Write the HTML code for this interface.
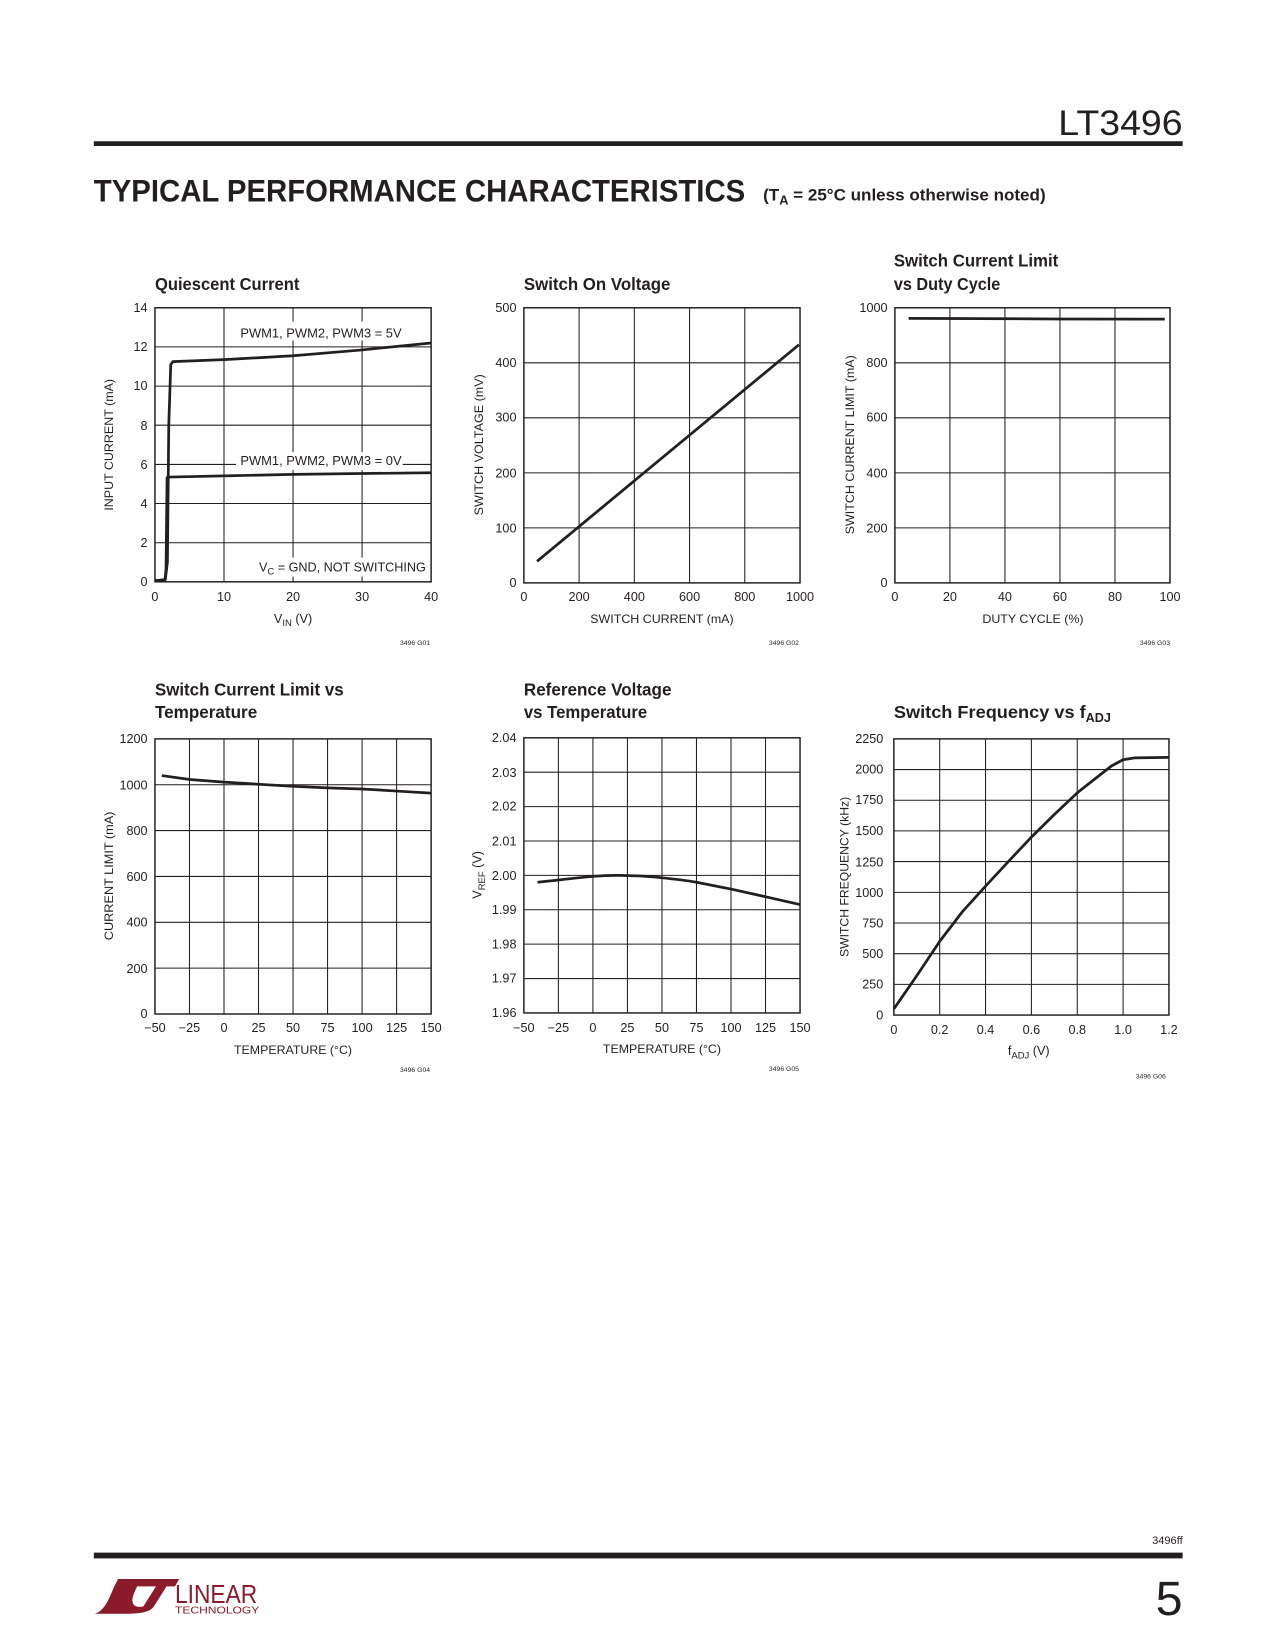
<!DOCTYPE html>
<html><head><meta charset="utf-8"><style>
html,body{margin:0;padding:0;background:#fff}
svg{display:block}
text{font-family:"Liberation Sans",sans-serif;fill:#231f20}
.t{font-size:12px}
.a{font-size:11.5px}
.ti{font-size:17px;font-weight:bold}
.g{font-size:6.5px}
.gr line{stroke:#231f20;stroke-width:1}
.fr{fill:none;stroke:#231f20;stroke-width:1.4}
.cv{fill:none;stroke:#231f20;stroke-width:2.6;stroke-linejoin:round}
</style></head><body>
<svg width="1275" height="1650" viewBox="0 0 1209.6 1565.4" xmlns="http://www.w3.org/2000/svg">
<text x="1122" y="128" text-anchor="end" textLength="118" lengthAdjust="spacingAndGlyphs" style="font-size:33px;font-weight:300">LT3496</text>
<rect x="89" y="134" width="1033" height="4.5" fill="#231f20"/>
<text x="89" y="191" textLength="618" lengthAdjust="spacingAndGlyphs" style="font-size:30px;font-weight:900">TYPICAL PERFORMANCE CHARACTERISTICS</text>
<text x="724" y="190" textLength="268" lengthAdjust="spacingAndGlyphs" style="font-size:16px;font-weight:bold">(T<tspan dy="4" font-size="12">A</tspan><tspan dy="-4"> = 25°C unless otherwise noted)</tspan></text>

<!-- Chart 1 -->
<text class="ti" x="147" y="275" textLength="137" lengthAdjust="spacingAndGlyphs">Quiescent Current</text>
<g class="gr"><line x1="212.5" y1="292" x2="212.5" y2="552"/><line x1="278" y1="292" x2="278" y2="552"/><line x1="343.5" y1="292" x2="343.5" y2="552"/>
<line x1="147" y1="514.9" x2="409" y2="514.9"/><line x1="147" y1="477.7" x2="409" y2="477.7"/><line x1="147" y1="440.6" x2="409" y2="440.6"/><line x1="147" y1="403.4" x2="409" y2="403.4"/><line x1="147" y1="366.3" x2="409" y2="366.3"/><line x1="147" y1="329.1" x2="409" y2="329.1"/></g>
<rect class="fr" x="147" y="292" width="262" height="260"/>
<rect x="224" y="305" width="160" height="18" fill="#fff"/>
<rect x="224" y="429" width="158" height="17" fill="#fff"/>
<rect x="246" y="529" width="160" height="18" fill="#fff"/>
<polyline class="cv" points="147,551 156.8,550 158.8,533.4 160.1,403.4 162,345.9 164,343.1 212.5,341.2 278,337.5 343.5,332 409,325.4"/>
<polyline class="cv" points="147,551 156.5,550 157.5,540 158.5,453 160.5,452.6 212.5,451.5 278,450 409,448.5"/>
<text class="t" x="228" y="320" textLength="153" lengthAdjust="spacingAndGlyphs">PWM1, PWM2, PWM3 = 5V</text>
<text class="t" x="228" y="441" textLength="153" lengthAdjust="spacingAndGlyphs">PWM1, PWM2, PWM3 = 0V</text>
<text class="t" x="404" y="542" text-anchor="end">V<tspan dy="3" font-size="9">C</tspan><tspan dy="-3"> = GND, NOT SWITCHING</tspan></text>
<g class="t" text-anchor="end"><text x="140" y="556">0</text><text x="140" y="519">2</text><text x="140" y="482">4</text><text x="140" y="445">6</text><text x="140" y="408">8</text><text x="140" y="370">10</text><text x="140" y="333">12</text><text x="140" y="296">14</text></g>
<g class="t" text-anchor="middle"><text x="147" y="570">0</text><text x="212.5" y="570">10</text><text x="278" y="570">20</text><text x="343.5" y="570">30</text><text x="409" y="570">40</text></g>
<text class="t" x="278" y="591" text-anchor="middle">V<tspan dy="3" font-size="9">IN</tspan><tspan dy="-3"> (V)</tspan></text>
<text class="a" transform="translate(107,422) rotate(-90)" text-anchor="middle" textLength="125" lengthAdjust="spacingAndGlyphs">INPUT CURRENT (mA)</text>
<text class="g" x="408" y="612" text-anchor="end">3496 G01</text>

<!-- Chart 2 -->
<text class="ti" x="497" y="275" textLength="139" lengthAdjust="spacingAndGlyphs">Switch On Voltage</text>
<g class="gr"><line x1="549.4" y1="292" x2="549.4" y2="553"/><line x1="601.8" y1="292" x2="601.8" y2="553"/><line x1="654.2" y1="292" x2="654.2" y2="553"/><line x1="706.6" y1="292" x2="706.6" y2="553"/>
<line x1="497" y1="500.8" x2="759" y2="500.8"/><line x1="497" y1="448.6" x2="759" y2="448.6"/><line x1="497" y1="396.4" x2="759" y2="396.4"/><line x1="497" y1="344.2" x2="759" y2="344.2"/></g>
<rect class="fr" x="497" y="292" width="262" height="261"/>
<polyline class="cv" points="509.5,532.5 758,327"/>
<g class="t" text-anchor="end"><text x="490" y="557">0</text><text x="490" y="505">100</text><text x="490" y="453">200</text><text x="490" y="400">300</text><text x="490" y="348">400</text><text x="490" y="296">500</text></g>
<g class="t" text-anchor="middle"><text x="497" y="570">0</text><text x="549.4" y="570">200</text><text x="601.8" y="570">400</text><text x="654.2" y="570">600</text><text x="706.6" y="570">800</text><text x="759" y="570">1000</text></g>
<text class="a" x="628" y="591" text-anchor="middle" textLength="136" lengthAdjust="spacingAndGlyphs">SWITCH CURRENT (mA)</text>
<text class="a" transform="translate(458,422) rotate(-90)" text-anchor="middle" textLength="134" lengthAdjust="spacingAndGlyphs">SWITCH VOLTAGE (mV)</text>
<text class="g" x="758" y="612" text-anchor="end">3496 G02</text>

<!-- Chart 3 -->
<text class="ti" x="848" y="253" textLength="156" lengthAdjust="spacingAndGlyphs">Switch Current Limit</text>
<text class="ti" x="848" y="275" textLength="101" lengthAdjust="spacingAndGlyphs">vs Duty Cycle</text>
<g class="gr"><line x1="901.2" y1="292" x2="901.2" y2="553"/><line x1="953.4" y1="292" x2="953.4" y2="553"/><line x1="1005.6" y1="292" x2="1005.6" y2="553"/><line x1="1057.8" y1="292" x2="1057.8" y2="553"/>
<line x1="849" y1="500.8" x2="1110" y2="500.8"/><line x1="849" y1="448.6" x2="1110" y2="448.6"/><line x1="849" y1="396.4" x2="1110" y2="396.4"/><line x1="849" y1="344.2" x2="1110" y2="344.2"/></g>
<rect class="fr" x="849" y="292" width="261" height="261"/>
<polyline class="cv" points="862,302 1000,302.6 1105,302.8"/>
<g class="t" text-anchor="end"><text x="842" y="557">0</text><text x="842" y="505">200</text><text x="842" y="453">400</text><text x="842" y="400">600</text><text x="842" y="348">800</text><text x="842" y="296">1000</text></g>
<g class="t" text-anchor="middle"><text x="849" y="570">0</text><text x="901.2" y="570">20</text><text x="953.4" y="570">40</text><text x="1005.6" y="570">60</text><text x="1057.8" y="570">80</text><text x="1110" y="570">100</text></g>
<text class="a" x="980" y="591" text-anchor="middle" textLength="96" lengthAdjust="spacingAndGlyphs">DUTY CYCLE (%)</text>
<text class="a" transform="translate(810,422) rotate(-90)" text-anchor="middle" textLength="170" lengthAdjust="spacingAndGlyphs">SWITCH CURRENT LIMIT (mA)</text>
<text class="g" x="1110" y="612" text-anchor="end">3496 G03</text>

<!-- Chart 4 -->
<text class="ti" x="147" y="660" textLength="179" lengthAdjust="spacingAndGlyphs">Switch Current Limit vs</text>
<text class="ti" x="147" y="681" textLength="97" lengthAdjust="spacingAndGlyphs">Temperature</text>
<g class="gr"><line x1="179.75" y1="701" x2="179.75" y2="962"/><line x1="212.5" y1="701" x2="212.5" y2="962"/><line x1="245.25" y1="701" x2="245.25" y2="962"/><line x1="278" y1="701" x2="278" y2="962"/><line x1="310.75" y1="701" x2="310.75" y2="962"/><line x1="343.5" y1="701" x2="343.5" y2="962"/><line x1="376.25" y1="701" x2="376.25" y2="962"/>
<line x1="147" y1="918.5" x2="409" y2="918.5"/><line x1="147" y1="875" x2="409" y2="875"/><line x1="147" y1="831.5" x2="409" y2="831.5"/><line x1="147" y1="788" x2="409" y2="788"/><line x1="147" y1="744.5" x2="409" y2="744.5"/></g>
<rect class="fr" x="147" y="701" width="262" height="261"/>
<polyline class="cv" points="153.5,735.8 180,739.5 212.5,742 245,744 278,746 310.75,747.5 343.5,748.5 376,750.5 409,752.5"/>
<g class="t" text-anchor="end"><text x="140" y="966">0</text><text x="140" y="923">200</text><text x="140" y="879">400</text><text x="140" y="836">600</text><text x="140" y="792">800</text><text x="140" y="749">1000</text><text x="140" y="705">1200</text></g>
<g class="t" text-anchor="middle"><text x="147" y="979">−50</text><text x="179.75" y="979">−25</text><text x="212.5" y="979">0</text><text x="245.25" y="979">25</text><text x="278" y="979">50</text><text x="310.75" y="979">75</text><text x="343.5" y="979">100</text><text x="376.25" y="979">125</text><text x="409" y="979">150</text></g>
<text class="a" x="278" y="1000" text-anchor="middle" textLength="112" lengthAdjust="spacingAndGlyphs">TEMPERATURE (°C)</text>
<text class="a" transform="translate(107,831) rotate(-90)" text-anchor="middle" textLength="122" lengthAdjust="spacingAndGlyphs">CURRENT LIMIT (mA)</text>
<text class="g" x="408" y="1017" text-anchor="end">3496 G04</text>

<!-- Chart 5 -->
<text class="ti" x="497" y="660" textLength="140" lengthAdjust="spacingAndGlyphs">Reference Voltage</text>
<text class="ti" x="497" y="681" textLength="117" lengthAdjust="spacingAndGlyphs">vs Temperature</text>
<g class="gr"><line x1="529.75" y1="700" x2="529.75" y2="961"/><line x1="562.5" y1="700" x2="562.5" y2="961"/><line x1="595.25" y1="700" x2="595.25" y2="961"/><line x1="628" y1="700" x2="628" y2="961"/><line x1="660.75" y1="700" x2="660.75" y2="961"/><line x1="693.5" y1="700" x2="693.5" y2="961"/><line x1="726.25" y1="700" x2="726.25" y2="961"/>
<line x1="497" y1="732.6" x2="759" y2="732.6"/><line x1="497" y1="765.25" x2="759" y2="765.25"/><line x1="497" y1="797.9" x2="759" y2="797.9"/><line x1="497" y1="830.5" x2="759" y2="830.5"/><line x1="497" y1="863.1" x2="759" y2="863.1"/><line x1="497" y1="895.75" x2="759" y2="895.75"/><line x1="497" y1="928.4" x2="759" y2="928.4"/></g>
<rect class="fr" x="497" y="700" width="262" height="261"/>
<path class="cv" d="M510,837 C540,834 565,830 588.7,830.5 C605,830.8 618,831.5 628,832.8 C645,834.5 655,836 660.75,837 L693.5,843.5 L726,850.7 L759,858.2"/>
<g class="t" text-anchor="end"><text x="490" y="965">1.96</text><text x="490" y="932">1.97</text><text x="490" y="900">1.98</text><text x="490" y="867">1.99</text><text x="490" y="835">2.00</text><text x="490" y="802">2.01</text><text x="490" y="769">2.02</text><text x="490" y="737">2.03</text><text x="490" y="704">2.04</text></g>
<g class="t" text-anchor="middle"><text x="497" y="979">−50</text><text x="529.75" y="979">−25</text><text x="562.5" y="979">0</text><text x="595.25" y="979">25</text><text x="628" y="979">50</text><text x="660.75" y="979">75</text><text x="693.5" y="979">100</text><text x="726.25" y="979">125</text><text x="759" y="979">150</text></g>
<text class="a" x="628" y="999" text-anchor="middle" textLength="112" lengthAdjust="spacingAndGlyphs">TEMPERATURE (°C)</text>
<text class="t" transform="translate(457,830) rotate(-90)" text-anchor="middle">V<tspan dy="3" font-size="9">REF</tspan><tspan dy="-3"> (V)</tspan></text>
<text class="g" x="758" y="1016" text-anchor="end">3496 G05</text>

<!-- Chart 6 -->
<text class="ti" x="848" y="681"><tspan textLength="182" lengthAdjust="spacingAndGlyphs">Switch Frequency vs f</tspan><tspan dy="4" font-size="12">ADJ</tspan></text>
<g class="gr"><line x1="891.5" y1="701" x2="891.5" y2="963"/><line x1="935" y1="701" x2="935" y2="963"/><line x1="978.5" y1="701" x2="978.5" y2="963"/><line x1="1022" y1="701" x2="1022" y2="963"/><line x1="1065.5" y1="701" x2="1065.5" y2="963"/>
<line x1="848" y1="933.9" x2="1109" y2="933.9"/><line x1="848" y1="904.8" x2="1109" y2="904.8"/><line x1="848" y1="875.7" x2="1109" y2="875.7"/><line x1="848" y1="846.6" x2="1109" y2="846.6"/><line x1="848" y1="817.4" x2="1109" y2="817.4"/><line x1="848" y1="788.3" x2="1109" y2="788.3"/><line x1="848" y1="759.2" x2="1109" y2="759.2"/><line x1="848" y1="730.1" x2="1109" y2="730.1"/></g>
<rect class="fr" x="848" y="701" width="261" height="262"/>
<polyline class="cv" points="848,957.2 869.75,925.7 891.5,893.1 913,865 935,840.7 957,817 978.5,794.2 1000,773 1022,752.2 1040,738 1054.6,726.6 1065.5,720.8 1076.4,719 1109,718.5"/>
<g class="t" text-anchor="end"><text x="838" y="967">0</text><text x="838" y="938">250</text><text x="838" y="909">500</text><text x="838" y="880">750</text><text x="838" y="851">1000</text><text x="838" y="822">1250</text><text x="838" y="792">1500</text><text x="838" y="763">1750</text><text x="838" y="734">2000</text><text x="838" y="705">2250</text></g>
<g class="t" text-anchor="middle"><text x="848" y="981">0</text><text x="891.5" y="981">0.2</text><text x="935" y="981">0.4</text><text x="978.5" y="981">0.6</text><text x="1022" y="981">0.8</text><text x="1065.5" y="981">1.0</text><text x="1109" y="981">1.2</text></g>
<text class="t" x="976" y="1001" text-anchor="middle">f<tspan dy="3" font-size="9">ADJ</tspan><tspan dy="-3"> (V)</tspan></text>
<text class="a" transform="translate(805,832) rotate(-90)" text-anchor="middle" textLength="152" lengthAdjust="spacingAndGlyphs">SWITCH FREQUENCY (kHz)</text>
<text class="g" x="1106" y="1023" text-anchor="end">3496 G06</text>

<!-- Footer -->
<text x="1122" y="1465" text-anchor="end" style="font-size:10.5px">3496ff</text>
<rect x="89" y="1473" width="1033" height="5.5" fill="#231f20"/>
<text x="1122" y="1532" text-anchor="end" style="font-size:46px;font-weight:300">5</text>
<g fill="#8b1a2b">
<path d="M90,1531 C100,1528 104,1515 108,1506 L112,1498 L170,1498 L166,1505 L130,1505 L127,1512 C123,1522 128,1526 136,1524 L148,1505 L158,1505 L146,1524 C142,1530 132,1531 118,1531 Z"/>
</g>
<text x="166" y="1521" style="font-size:25px;fill:#8b1a2b;font-weight:300" textLength="78" lengthAdjust="spacingAndGlyphs">LINEAR</text>
<text x="166" y="1531" style="font-size:9.5px;fill:#8b1a2b" textLength="80" lengthAdjust="spacingAndGlyphs">TECHNOLOGY</text>
</svg>
</body></html>
